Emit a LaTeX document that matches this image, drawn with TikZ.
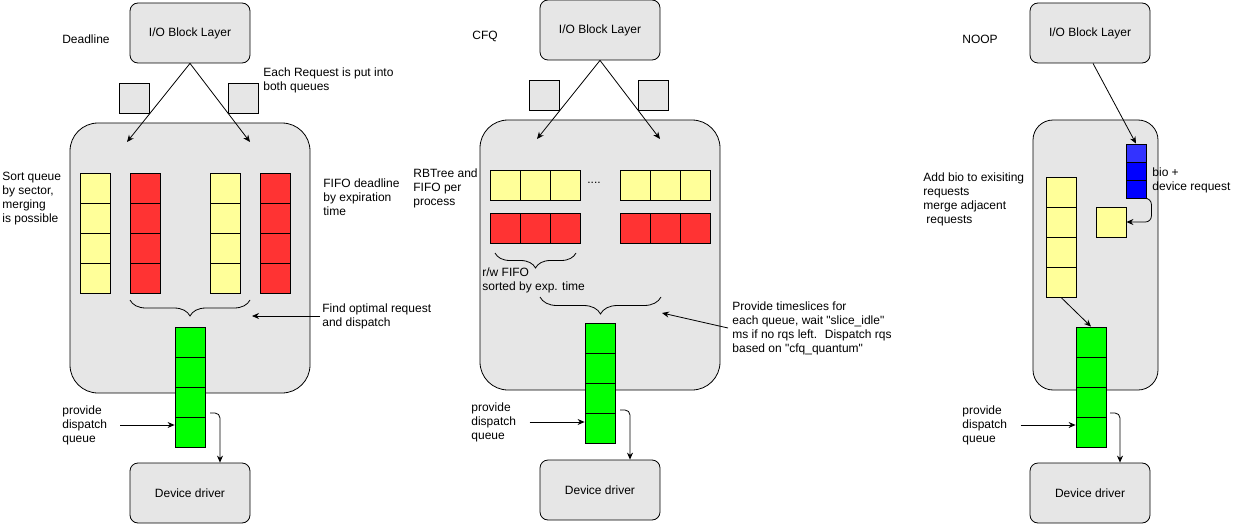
\documentclass[tikz,border=0pt]{standalone}
\usepackage{fontspec}
\setmainfont{Liberation Sans}
\usetikzlibrary{calc,decorations.pathreplacing,arrows.meta}

\definecolor{boxgray}{HTML}{E6E6E6}
\definecolor{qyellow}{HTML}{FFFF99}
\definecolor{qred}{HTML}{FF3333}
\definecolor{qgreen}{HTML}{00FF00}
\definecolor{qblue}{HTML}{0000FF}
\definecolor{qlblue}{HTML}{3333FF}

\begin{document}
\begin{tikzpicture}[x=1pt,y=-1pt,line width=0.8pt,font=\fontsize{12}{14}\selectfont]
    % `block' is used for the I/O layer and the device driver.
    % `sched' is the big scheduler box, `req' a waiting request.
    % `ycell', `rcell', `gcell', `bcell' are the queue slots.
    \tikzstyle{block} = [draw,fill=boxgray,rounded corners=8pt,minimum width=120pt,minimum height=60pt]
    \tikzstyle{sched} = [draw,fill=boxgray,rounded corners=28pt,minimum width=240pt,minimum height=270pt]
    \tikzstyle{req} = [draw,fill=boxgray,minimum size=30pt,inner sep=0pt]
    \tikzstyle{ycell} = [draw,fill=qyellow,minimum size=30pt,inner sep=0pt]
    \tikzstyle{rcell} = [draw,fill=qred,minimum size=30pt,inner sep=0pt]
    \tikzstyle{gcell} = [draw,fill=qgreen,minimum size=30pt,inner sep=0pt]
    \tikzstyle{bcell} = [draw,fill=qblue,minimum width=20pt,minimum height=18pt,inner sep=0pt]
    \tikzstyle{lbl} = [align=left,anchor=west,inner sep=0pt]
    \tikzstyle{arr} = [-{Stealth[length=7pt,width=6pt]}]
    \tikzstyle{brc} = [decorate,decoration={brace,mirror,amplitude=16pt}]
    %
    \useasboundingbox (0,0) rectangle (1241,524);
    %
    % Deadline
    \node[block] (dio) at (190,33) {I/O Block Layer};
    \node (dname) at (86,39) {Deadline};
    \node[req] (dsq1) at (134,98) {};
    \node[req] (dsq2) at (243,98) {};
    \node[sched] (dsch) at (190,258) {};
    \coordinate (din1) at (127,142);
    \coordinate (din2) at (250,142);
    \draw[arr] (dio.south) -- (din1);
    \draw[arr] (dio.south) -- (din2);
    \foreach \i in {0,...,3} {
      \node[ycell] (dya\i) at (95,188+30*\i) {};
      \node[rcell] (dra\i) at (145,188+30*\i) {};
      \node[ycell] (dyb\i) at (225,188+30*\i) {};
      \node[rcell] (drb\i) at (275,188+30*\i) {};
      \node[gcell] (dg\i) at (190,342+30*\i) {};
    }
    \node[lbl] (dput) at (263,80) {Each Request is put into\\both queues};
    \node[lbl] (dsort) at (2,199) {Sort queue\\by sector,\\merging\\is possible};
    \node[lbl] (dfifo) at (323,197) {FIFO deadline\\by expiration\\time};
    \coordinate (dbl) at (130,300);
    \coordinate (dbr) at (250,300);
    \draw[brc] (dbl) -- (dbr);
    \node[lbl] (dfind) at (322,316) {Find optimal request\\and dispatch};
    \draw[arr] ([xshift=-2pt]dfind.west) -- ($(dfind.west -| dbr)+(2,0)$);
    \node[lbl] (dpq) at (62,425) {provide\\dispatch\\queue};
    \draw[arr] ([xshift=13pt]dpq.east) -- (dpq.east -| dg3.west);
    \node[block] (ddrv) at (190,493) {Device driver};
    \coordinate (dout) at (210,413);
    \draw[arr,rounded corners=5pt] (dout) -| ($(ddrv.north)+(30,0)$);
    %
    % CFQ
    \node[block] (cio) at (600,30) {I/O Block Layer};
    \node (cname) at (485,36) {CFQ};
    \node[req] (csq1) at (544,95) {};
    \node[req] (csq2) at (653,95) {};
    \node[sched] (csch) at (600,255) {};
    \coordinate (cin1) at (537,139);
    \coordinate (cin2) at (660,139);
    \draw[arr] (cio.south) -- (cin1);
    \draw[arr] (cio.south) -- (cin2);
    \foreach \i in {0,1,2} {
      \node[ycell] (cya\i) at (505+30*\i,185) {};
      \node[ycell] (cyb\i) at (635+30*\i,185) {};
      \node[rcell] (cra\i) at (505+30*\i,228) {};
      \node[rcell] (crb\i) at (635+30*\i,228) {};
    }
    \foreach \i in {0,...,3}
      \node[gcell] (cg\i) at (600,338+30*\i) {};
    \node (cdots) at (594,183) {....};
    \node[lbl] (crb) at (413,188) {RBTree and\\FIFO per\\process};
    \coordinate (csl) at (495,253);
    \coordinate (csr) at (576,253);
    \draw[brc,decoration={amplitude=15pt}] (csl) -- (csr);
    \node[lbl] (crw) at (482,280) {r/w FIFO\\sorted by exp. time};
    \coordinate (cbl) at (540,297);
    \coordinate (cbr) at (661,297);
    \draw[brc,decoration={amplitude=17pt}] (cbl) -- (cbr);
    \node[lbl] (cprov) at (732,328) {Provide timeslices for\\each queue, wait \textquotedbl slice\_idle\textquotedbl\\ms if no rqs left.~ Dispatch rqs\\based on \textquotedbl cfq\_quantum\textquotedbl};
    \coordinate (cpt) at (662,313);
    \draw[arr] ([xshift=-4pt]cprov.west) -- (cpt);
    \node[lbl] (cpq) at (471,422) {provide\\dispatch\\queue};
    \draw[arr] ([xshift=13pt]cpq.east) -- (cpq.east -| cg3.west);
    \node[block] (cdrv) at (600,490) {Device driver};
    \coordinate (cout) at (620,410);
    \draw[arr,rounded corners=5pt] (cout) -| ($(cdrv.north)+(30,0)$);
    %
    % NOOP
    \node[block] (nio) at (1090,33) {I/O Block Layer};
    \node (nname) at (980,39) {NOOP};
    \node[sched,minimum width=125pt,rounded corners=20pt] (nsch) at (1095.5,255) {};
    \node[bcell,fill=qlblue] (nb0) at (1136,153) {};
    \node[bcell] (nb1) at (1136,171) {};
    \node[bcell] (nb2) at (1136,189) {};
    \draw[arr] ([xshift=3pt]nio.south) -- (nb0.north);
    \node[ycell] (nsq) at (1111,222) {};
    \draw[arr,rounded corners=6pt] ([xshift=1pt]nb2.south east) -- ++(4,0) |- (nsq.east);
    \foreach \i in {0,...,3} {
      \node[ycell] (ny\i) at (1061,192+30*\i) {};
      \node[gcell] (ng\i) at (1091,342+30*\i) {};
    }
    \draw[arr] (ny3.south) -- (ng0.north);
    \node[lbl] (nbio) at (1152,180) {bio +\\device request};
    \node[lbl] (nadd) at (923,199) {Add bio to exisiting\\requests\\merge adjacent\\\hspace*{3pt}requests};
    \node[lbl] (npq) at (962,425) {provide\\dispatch\\queue};
    \draw[arr] ([xshift=13pt]npq.east) -- (npq.east -| ng3.west);
    \node[block] (ndrv) at (1090,493) {Device driver};
    \coordinate (nout) at (1110,413);
    \draw[arr,rounded corners=5pt] (nout) -| ($(ndrv.north)+(30,0)$);
\end{tikzpicture}
\end{document}
